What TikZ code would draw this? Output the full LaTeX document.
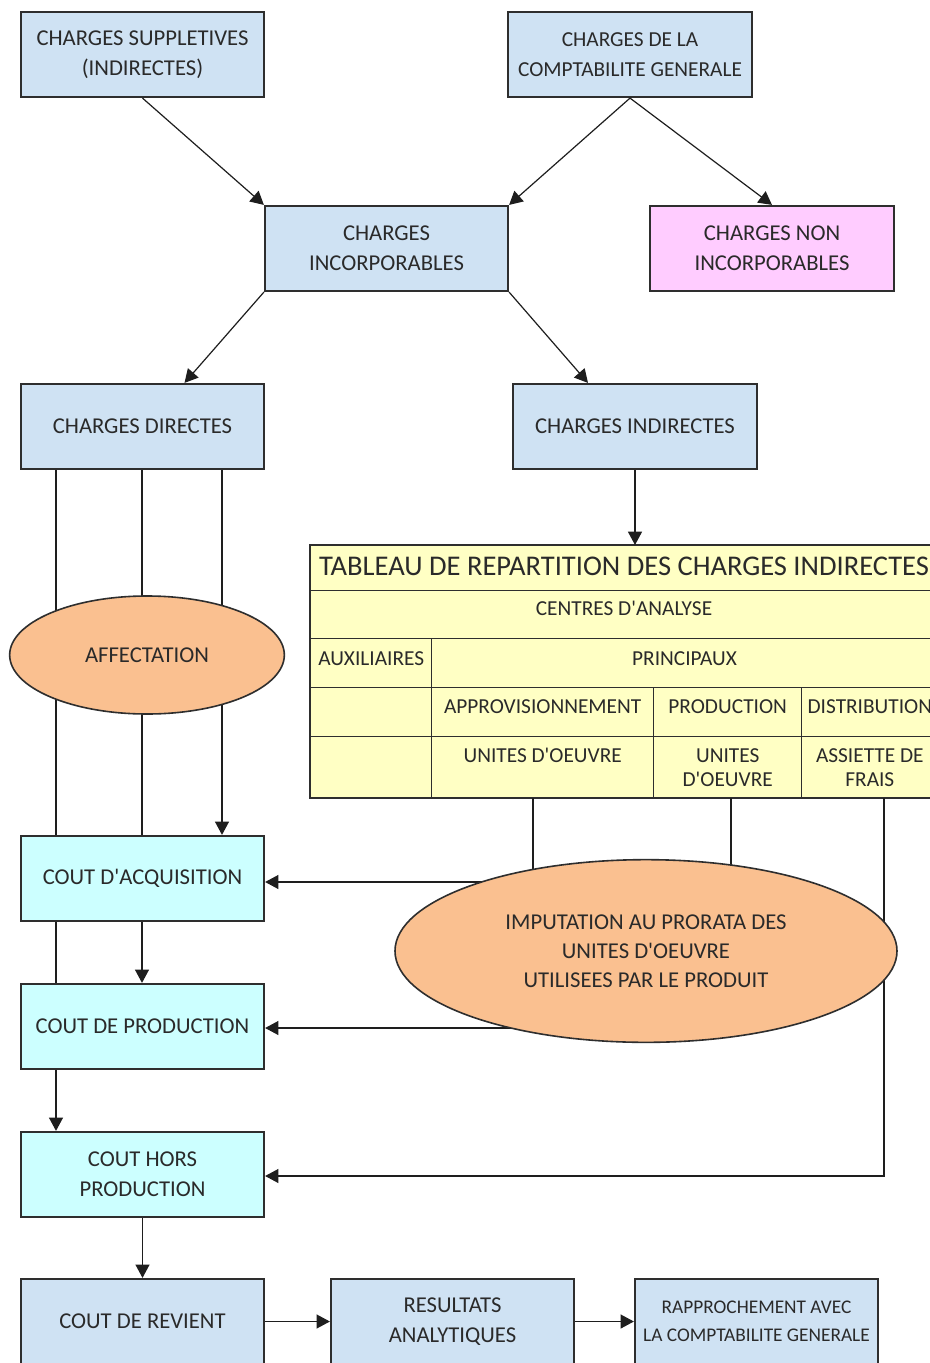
\documentclass[tikz,border=0pt]{standalone}
\usepackage{fontspec}
\setmainfont{Carlito}[Ligatures=TeXOff]
\usetikzlibrary{arrows.meta,shapes.geometric,calc}
\definecolor{boxblue}{HTML}{CFE2F3}
\definecolor{boxcyan}{HTML}{CCFFFF}
\definecolor{boxpink}{HTML}{FFCCFF}
\definecolor{ellorange}{HTML}{FAC090}
\definecolor{tabyellow}{HTML}{FFFFC4}
\definecolor{boxline}{HTML}{2E2E2E}
\definecolor{txt}{HTML}{2A2A2A}
\definecolor{conn}{HTML}{1E1E1E}
\begin{document}
\begin{tikzpicture}[x=0.75pt,y=-0.75pt,
  box/.style={draw=boxline, line width=1.4pt, fill=boxblue, minimum width=182.5pt, minimum height=64pt,
    inner sep=0pt, align=center, text=txt, font=\fontsize{17}{22.5}\selectfont},
  cbox/.style={box, fill=boxcyan},
  pbox/.style={box, fill=boxpink},
  oval/.style={ellipse, draw=boxline, line width=1.2pt, fill=ellorange, inner sep=0pt, align=center,
    text=txt, font=\fontsize{17}{21.75}\selectfont},
  cell/.style={draw=boxline, line width=1pt, fill=tabyellow, inner sep=0pt, anchor=north west,
    align=center, text=txt, font=\fontsize{16}{18}\selectfont},
  arr/.style={draw=conn, line width=0.9pt, -{Triangle[length=10pt,width=10.5pt]}},
  ln/.style={draw=conn, line width=0.9pt}
]
\useasboundingbox (0,0) rectangle (930,1363);
\fill[white] (0,0) rectangle (930,1363);

% top boxes
\node[box] (sup) at (142.5,54.5) {CHARGES SUPPLETIVES\\(INDIRECTES)};
\node[box, font=\fontsize{16}{22.5}\selectfont] (cg) at (630,54.5) {CHARGES DE LA\\COMPTABILITE GENERALE};
\node[box] (inc) at (386.5,248.5) {CHARGES\\INCORPORABLES};
\node[pbox] (noninc) at (772,248.5) {CHARGES NON\\INCORPORABLES};
\node[box] (dir) at (142.5,426.5) {CHARGES DIRECTES};
\node[box] (indir) at (635,426.5) {CHARGES INDIRECTES};

% cost boxes
\node[cbox] (acq) at (142.5,878.5) {COUT D'ACQUISITION};
\node[cbox] (prod) at (142.5,1026.5) {COUT DE PRODUCTION};
\node[cbox] (hors) at (142.5,1174.5) {COUT HORS\\PRODUCTION};
\node[box] (rev) at (142.5,1321.5) {COUT DE REVIENT};
\node[box] (res) at (452.5,1321.5) {RESULTATS\\ANALYTIQUES};
\node[box, font=\fontsize{14.5}{21}\selectfont] (rap) at (756.5,1321.5) {RAPPROCHEMENT AVEC\\LA COMPTABILITE GENERALE};

% table
\node[cell, minimum width=470pt, minimum height=33.75pt, text depth=3pt,
      font=\fontsize{21.4}{24}\selectfont] (tTitle) at (310,545) {TABLEAU DE REPARTITION DES CHARGES INDIRECTES};
\node[cell, minimum width=470pt, minimum height=36pt, text depth=9pt] (tCentres) at (310,590) {CENTRES D'ANALYSE};
\node[cell, minimum width=90.75pt, minimum height=36.75pt, text depth=7pt] (tAux) at (310,638) {AUXILIAIRES};
\node[cell, minimum width=379.25pt, minimum height=36.75pt, text depth=7pt] (tPrinc) at (431,638) {PRINCIPAUX};
\node[cell, minimum width=90.75pt, minimum height=36.75pt] (tB1) at (310,687) {};
\node[cell, minimum width=166.5pt, minimum height=36.75pt, text depth=8pt] (tAppro) at (431,687) {APPROVISIONNEMENT};
\node[cell, minimum width=111pt, minimum height=36.75pt, text depth=8pt] (tProd) at (653,687) {PRODUCTION};
\node[cell, minimum width=102.25pt, minimum height=36.75pt, text depth=8pt] (tDist) at (801,687) {DISTRIBUTION};
\node[cell, minimum width=90.75pt, minimum height=45.75pt] (tB2) at (310,736) {};
\node[cell, minimum width=166.5pt, minimum height=45.75pt, text depth=18pt] (uoA) at (431,736) {UNITES D'OEUVRE};
\node[cell, minimum width=111pt, minimum height=45.75pt] (uoP) at (653,736) {UNITES\\D'OEUVRE};
\node[cell, minimum width=102.25pt, minimum height=45.75pt] (uoD) at (801,736) {ASSIETTE DE\\FRAIS};
\draw[draw=boxline, line width=1.4pt] (tTitle.north west) rectangle (uoD.south east);

% column coordinates
\coordinate (cA) at (56,0);
\coordinate (cB) at (142,0);
\coordinate (cC) at (222,0);
\coordinate (j1) at (533,882);
\coordinate (j2) at (731,1028);
\coordinate (j3) at (884,1176);

% top connectors
\draw[arr] (sup.south) -- (inc.north west);
\draw[arr] (cg.south) -- (inc.north east);
\draw[arr] (cg.south) -- (noninc.north);
\draw[arr] (inc.south west) -- ($(dir.north)+(42,0)$);
\draw[arr] (inc.south east) -- ($(indir.north)+(-47,0)$);
\draw[arr] (indir.south) -- (tTitle.north -| indir.south);

% direct charges lines
\draw[ln] (dir.south -| cA) -- (acq.north -| cA);
\draw[ln] (acq.south -| cA) -- (prod.north -| cA);
\draw[arr] (prod.south -| cA) -- (hors.north -| cA);
\draw[ln] (dir.south -| cB) -- (acq.north -| cB);
\draw[arr] (acq.south -| cB) -- (prod.north -| cB);
\draw[arr] (dir.south -| cC) -- (acq.north -| cC);
\draw[arr] (hors.south) -- (rev.north);
\draw[arr] (rev.east) -- (res.west);
\draw[arr] (res.east) -- (rap.west);

% indirect charges lines
\draw[arr] (uoA.south -| j1) -- (j1) -- (acq.east |- j1);
\draw[arr] (uoP.south -| j2) -- (j2) -- (prod.east |- j2);
\draw[arr] (uoD.south -| j3) -- (j3) -- (hors.east |- j3);

% ellipses
\node[oval, minimum width=206pt, minimum height=88.5pt] (aff) at (147,655) {AFFECTATION};
\node[oval, minimum width=376.5pt, minimum height=137pt] (imp) at (646,951)
  {IMPUTATION AU PRORATA DES\\UNITES D'OEUVRE\\UTILISEES PAR LE PRODUIT};
\end{tikzpicture}
\end{document}
